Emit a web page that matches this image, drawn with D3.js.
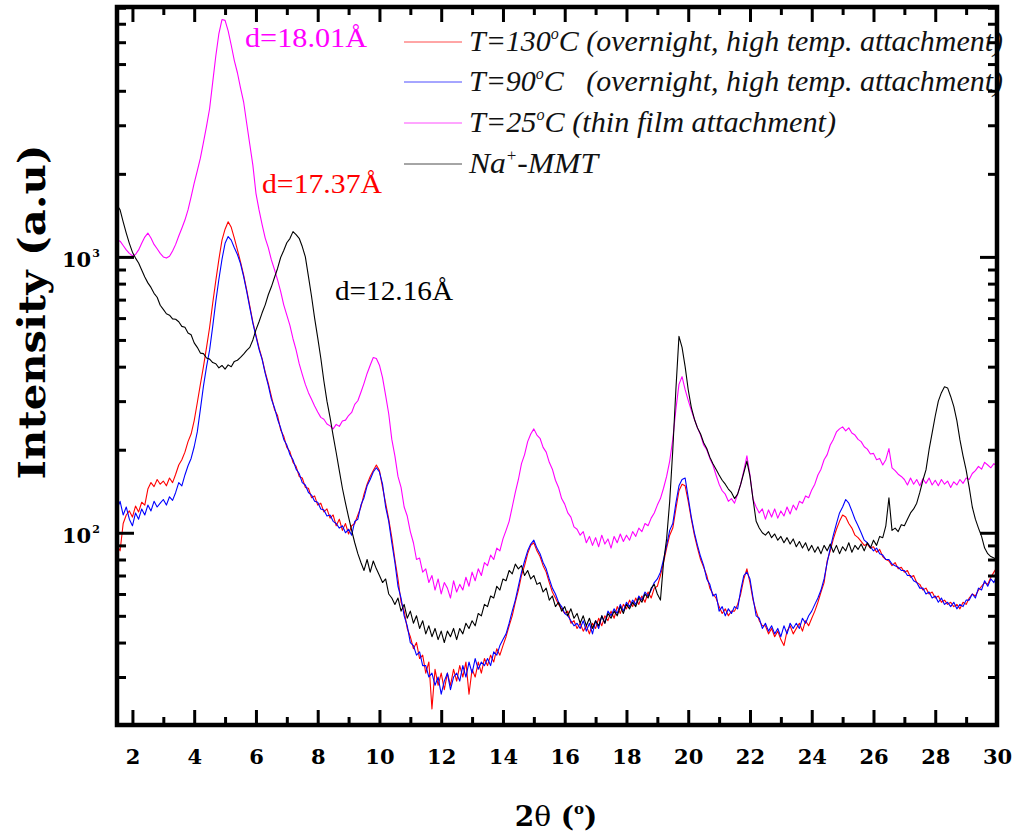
<!DOCTYPE html>
<html>
<head>
<meta charset="utf-8">
<script src="https://cdn.jsdelivr.net/npm/d3@7"></script>
<style>
  html, body { margin: 0; padding: 0; background: #ffffff; }
  svg { display: block; }
  .legend text, .pre { white-space: pre; }
</style>
</head>
<body>
<svg id="chart" width="1016" height="834"></svg>
<script>
// Step scan: 1.5° to 30.0° in 0.1° steps (286 points)
const scanStart = 1.5;
const scanStep = 0.1;
const twoTheta = d3.range(286).map(i => Math.round((scanStart + i * scanStep) * 10) / 10);

// T = 130 °C (overnight, high temp. attachment)
const t130 = [
  90,86,108,116,120,114,125,119,129,126,
  144,152,147,156,150,154,148,158,152,163,
  176,184,196,214,228,255,296,345,400,470,
  556,680,820,980,1150,1260,1340,1280,1170,1060,
  960,860,760,665,580,520,468,428,382,348,
  312,280,266,236,224,204,197,180,174,160,
  158,146,145,134,136,126,128,119,122,113,
  116,106,112,102,108,99,106,108,116,124,
  138,150,160,168,176,168,146,128,112,96,
  80,68,56,52,45,42,38,40,35,36,
  31,34,23,32,28,31,27,31,28,32,
  29,33,30,34,26,32,30,34,31,35,
  33,36,34,38,36,39,42,46,50,56,
  62,70,76,84,90,92,86,82,76,72,
  66,61,58,55,53,51,52,47,48,45,
  47,44,46,43,47,45,49,46,50,48,
  52,49,54,51,55,53,57,54,58,55,
  59,56,61,58,63,64,70,78,88,98,
  104,122,142,150,148,130,112,98,88,80,
  75,70,63,60,58,54,51,53,50,52,
  52,55,60,68,74,66,57,52,48,46,
  46,43,45,42,44,41,39,44,46,43,
  45,47,44,48,46,49,52,56,61,66,
  79,86,95,103,110,116,114,108,104,98,
  96,93,90,91,88,89,85,87,82,80,
  79,76,78,74,75,72,73,69,70,66,
  65,62,63,60,61,58,59,56,57,55,
  56,54,55,53,56,55,58,60,59,62,
  64,66,65,69,72,75
];

// T = 90 °C (overnight, high temp. attachment)
const t90 = [
  122,130,116,124,112,106,118,112,122,116,
  126,120,130,124,128,132,126,135,131,140,
  152,148,162,175,186,205,232,280,340,400,
  460,560,690,830,980,1120,1185,1150,1080,1020,
  945,850,750,655,575,515,462,425,378,342,
  305,284,258,240,218,208,192,184,170,164,
  152,149,140,137,130,129,122,121,115,116,
  110,108,104,106,100,103,98,110,112,126,
  134,148,156,166,172,166,150,124,110,92,
  78,64,58,50,46,40,39,36,37,33,
  33,30,31,28,30,26,29,31,27,30,
  31,29,33,30,34,31,35,32,34,33,
  35,33,37,36,39,41,43,47,52,57,
  64,72,79,86,91,94,88,84,78,74,
  68,63,60,56,54,51,50,48,46,47,
  45,48,44,47,43,48,45,50,47,52,
  50,53,51,55,52,56,54,57,55,59,
  57,61,59,62,66,68,72,80,90,102,
  108,128,148,156,158,134,114,100,90,82,
  76,68,65,59,60,52,54,50,53,51,
  54,53,62,70,72,68,58,50,49,45,
  47,44,46,43,45,42,46,43,47,45,
  47,45,49,47,50,52,55,58,62,68,
  78,88,98,108,118,124,132,128,120,112,
  106,100,94,92,89,86,88,84,83,80,
  80,77,76,75,73,73,70,70,67,66,
  63,63,60,61,58,59,56,58,55,56,
  54,56,53,55,54,57,57,60,58,63,
  62,67,64,68,66,70
];

// T = 25 °C (thin film attachment)
const t25 = [
  1150,1140,1100,1060,1030,1010,1020,1060,1120,1180,
  1220,1170,1110,1070,1030,1000,990,1005,1050,1110,
  1190,1270,1360,1480,1650,1850,2050,2280,2600,2980,
  3450,4300,5350,6450,7250,7200,6600,5850,5150,4650,
  4100,3650,3050,2560,2150,1700,1480,1310,1170,1080,
  975,900,825,750,670,615,565,505,460,410,
  375,345,322,305,288,274,262,258,248,244,
  238,247,243,254,256,266,273,292,301,323,
  348,378,405,432,428,405,365,315,270,218,
  190,160,146,124,115,101,92,80,81,72,
  74,66,70,62,68,60,66,63,58,67,
  61,65,62,69,64,72,67,74,70,78,
  76,83,80,88,86,95,102,110,124,140,
  156,178,192,214,228,238,226,220,204,196,
  180,170,155,146,133,127,118,114,105,103,
  98,101,92,97,90,96,89,98,91,95,
  88,97,92,99,93,98,94,101,97,104,
  101,108,106,113,118,126,133,145,160,182,
  218,280,345,368,330,302,278,258,240,226,
  208,200,186,176,162,150,142,138,130,133,
  128,138,150,168,190,162,132,124,118,122,
  112,121,114,122,113,120,115,124,117,126,
  121,130,128,136,134,143,150,162,170,184,
  192,208,218,232,238,242,234,240,230,226,
  218,214,205,201,193,194,184,186,176,184,
  202,172,168,163,160,156,149,158,150,156,
  148,157,151,158,149,155,148,156,150,154,
  146,153,149,156,151,158,156,164,168,174,
  170,180,176,172,178,174
];

// Na+-MMT
const naMMT = [
  1540,1480,1340,1220,1120,1040,990,950,897,846,
  805,775,738,714,668,645,622,615,596,594,
  582,560,556,530,522,488,470,448,446,430,
  426,414,410,396,404,392,406,400,418,422,
  432,444,458,470,500,544,582,627,670,729,
  779,842,908,995,1055,1125,1165,1235,1205,1168,
  1090,1000,850,720,600,510,430,355,300,262,
  225,195,168,145,128,114,102,92,84,78,
  73,80,72,79,74,70,66,68,60,58,
  55,58,52,55,49,52,47,50,45,48,
  43,46,42,45,41,44,40,44,42,45,
  41,45,43,47,45,48,46,51,50,55,
  54,59,58,64,62,68,67,73,71,77,
  74,76,70,73,68,70,65,66,61,63,
  57,59,54,56,52,54,50,53,49,51,
  47,50,46,49,45,48,46,50,47,51,
  49,52,50,54,51,55,53,56,54,58,
  56,60,58,63,65,60,57,78,95,130,
  200,330,515,470,400,330,285,258,240,228,
  212,202,188,178,170,162,155,150,144,140,
  133,138,150,165,182,160,132,110,104,100,
  98,101,96,99,94,97,92,96,91,95,
  89,93,88,92,86,90,85,89,84,90,
  86,91,85,90,84,89,86,92,85,90,
  87,91,86,92,88,94,90,97,96,106,
  134,102,104,101,107,106,112,118,122,128,
  140,155,169,200,230,265,300,322,338,335,
  312,287,255,217,190,169,146,124,112,104,
  97,88,84,82,81,80
];

const xTickLabels = [2,4,6,8,10,12,14,16,18,20,22,24,26,28,30];
const xMinorTicks = [3,5,7,9,11,13,15,17,19,21,23,25,27,29];
const yMajorTicks = [100, 1000];

const seriesList = [
  { key: "t130", values: t130, color: "#ff0000", label: ["T=130", "C (overnight, high temp. attachment)"] },
  { key: "t90",  values: t90,  color: "#0000ff", label: ["T=90", "C   (overnight, high temp. attachment)"] },
  { key: "t25",  values: t25,  color: "#ff00ff", label: ["T=25", "C (thin film attachment)"] },
  { key: "na",   values: naMMT, color: "#000000", label: null }
];

const peakNotes = [
  { text: "d=18.01Å", color: "#ff00ff" },
  { text: "d=17.37Å", color: "#ff0000" },
  { text: "d=12.16Å", color: "#000000" }
];

// ---- geometry
const X0 = 117, X1 = 997, Y0 = 7, Y1 = 725;
const x = d3.scaleLinear().domain([1.5, 30]).range([X0, X1]);
const y = d3.scaleLog().domain([20.1, 8050]).range([Y1, Y0]);

const svg = d3.select("#chart");
svg.append("rect").attr("width", 1016).attr("height", 834).attr("fill", "#fff");

svg.append("defs").append("clipPath").attr("id", "plotClip")
  .append("rect").attr("x", X0).attr("y", Y0).attr("width", X1 - X0).attr("height", Y1 - Y0);

// ---- curves
const line = d3.line()
  .x((d, i) => x(twoTheta[i]))
  .y(d => y(d));

const plot = svg.append("g").attr("clip-path", "url(#plotClip)");
seriesList.forEach(s => {
  plot.append("path")
    .attr("d", line(s.values))
    .attr("fill", "none")
    .attr("stroke", s.color)
    .attr("stroke-width", 1.1)
    .attr("stroke-linejoin", "round");
});

// ---- peak annotations
const noteFont = "'Liberation Serif', 'Times New Roman', serif";
const notePos = [ [245, 47, 122], [262, 193, 120], [335, 300, 118] ];
peakNotes.forEach((n, i) => {
  svg.append("text")
    .attr("x", notePos[i][0]).attr("y", notePos[i][1])
    .attr("textLength", notePos[i][2]).attr("lengthAdjust", "spacingAndGlyphs")
    .attr("font-family", noteFont).attr("font-size", 28)
    .attr("fill", n.color)
    .text(n.text);
});

// ---- legend
const legend = svg.append("g").attr("class", "legend");
const legendRows = [42, 82, 123, 164];
const legendWidths = [534, 534, 367, 129];
const legendFont = "'Liberation Serif', 'Times New Roman', serif";
seriesList.forEach((s, i) => {
  const cy = legendRows[i];
  legend.append("line")
    .attr("x1", 404).attr("x2", 462).attr("y1", cy).attr("y2", cy)
    .attr("stroke", s.color).attr("stroke-width", 1).attr("stroke-opacity", 0.7);
  const t = legend.append("text")
    .attr("x", 469).attr("y", cy + 9)
    .attr("font-family", legendFont).attr("font-style", "italic")
    .attr("font-size", 30).attr("fill", "#111")
    .attr("textLength", legendWidths[i]).attr("lengthAdjust", "spacingAndGlyphs");
  if (s.label) {
    t.append("tspan").text(s.label[0]);
    t.append("tspan").attr("dy", -12).attr("font-size", 16).text("o");
    t.append("tspan").attr("dy", 12).text(s.label[1]);
  } else {
    t.append("tspan").text("Na");
    t.append("tspan").attr("dy", -12).attr("font-size", 16).text("+");
    t.append("tspan").attr("dy", 12).text("-MMT");
  }
});

// ---- ticks (all pointing inward)
function tickSet(axisFn, scale, values, size, tx, ty) {
  const g = svg.append("g").attr("transform", `translate(${tx},${ty})`)
    .call(axisFn(scale).tickValues(values).tickSizeInner(size).tickSizeOuter(0).tickFormat(""));
  g.select(".domain").remove();
  g.selectAll(".tick line").attr("stroke", "#000").attr("stroke-width", 3);
  return g;
}

tickSet(d3.axisBottom, x, xTickLabels, -15, 0, Y1);
tickSet(d3.axisBottom, x, xMinorTicks, -8, 0, Y1);
tickSet(d3.axisTop, x, xTickLabels, -15, 0, Y0);
tickSet(d3.axisTop, x, xMinorTicks, -8, 0, Y0);

const yMinorTicks = [];
[10, 100, 1000].forEach(dec => {
  for (let k = 2; k <= 9; k++) {
    const v = k * dec;
    if (v >= 20.1 && v <= 8050) yMinorTicks.push(v);
  }
});
tickSet(d3.axisLeft, y, yMajorTicks, -17, X0, 0);
tickSet(d3.axisLeft, y, yMinorTicks, -9, X0, 0);
tickSet(d3.axisRight, y, yMajorTicks, -17, X1, 0);
tickSet(d3.axisRight, y, yMinorTicks, -9, X1, 0);

// ---- tick labels
const labelFont = "'DejaVu Serif', serif";
const xLab = svg.append("g").attr("transform", `translate(0,${Y1})`)
  .call(d3.axisBottom(x).tickValues(xTickLabels).tickSize(0).tickFormat(d3.format("d")));
xLab.select(".domain").remove();
xLab.selectAll(".tick text")
  .attr("y", 39).attr("dy", 0)
  .attr("font-family", labelFont).attr("font-weight", "bold")
  .attr("font-size", 21).attr("fill", "#000");

yMajorTicks.forEach(v => {
  const t = svg.append("text")
    .attr("x", 62).attr("y", y(v) + 10)
    .attr("font-family", labelFont).attr("font-weight", "bold")
    .attr("font-size", 21).attr("fill", "#000");
  t.append("tspan").text("10");
  t.append("tspan").attr("dy", -10).attr("dx", 1).attr("font-size", 11)
    .text(String(Math.round(Math.log10(v))));
});

// ---- axis titles
svg.append("text")
  .attr("transform", "rotate(-90)")
  .attr("x", -312).attr("y", 45)
  .attr("text-anchor", "middle")
  .attr("font-family", labelFont).attr("font-weight", "bold")
  .attr("font-size", 38)
  .attr("textLength", 335).attr("lengthAdjust", "spacingAndGlyphs")
  .attr("fill", "#000")
  .text("Intensity (a.u)");

const xTitle = svg.append("text")
  .attr("x", 556).attr("y", 826)
  .attr("text-anchor", "middle")
  .attr("font-family", labelFont).attr("font-weight", "bold")
  .attr("font-size", 28).attr("fill", "#000");
xTitle.append("tspan").text("2");
xTitle.append("tspan").attr("font-weight", "normal").text("θ");
xTitle.append("tspan").text(" (");
xTitle.append("tspan").attr("dy", -12).attr("font-size", 15).text("o");
xTitle.append("tspan").attr("dy", 12).text(")");

// ---- frame
svg.append("rect")
  .attr("x", X0).attr("y", Y0).attr("width", X1 - X0).attr("height", Y1 - Y0)
  .attr("fill", "none").attr("stroke", "#000").attr("stroke-width", 4.5);
</script>
</body>
</html>
